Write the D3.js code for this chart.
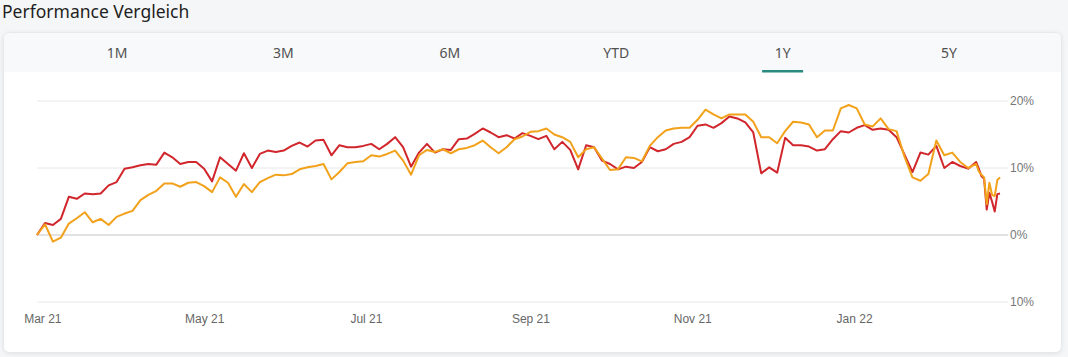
<!DOCTYPE html>
<html>
<head>
<meta charset="utf-8">
<script src="https://cdn.jsdelivr.net/npm/d3@7"></script>
<style>
  html, body { margin: 0; padding: 0; background: #f5f6f7; }
  svg { display: block; }
</style>
</head>
<body>
<svg id="chart" width="1068" height="357"></svg>
<script>
// ---- data ----
const title = "Performance Vergleich";
const tabs = ["1M", "3M", "6M", "YTD", "1Y", "5Y"];
const activeTab = "1Y";
const dates = [
  "2021-02-27","2021-03-02","2021-03-05","2021-03-08","2021-03-11","2021-03-14","2021-03-17","2021-03-20","2021-03-23","2021-03-26",
  "2021-03-29","2021-04-01","2021-04-04","2021-04-07","2021-04-10","2021-04-13","2021-04-16","2021-04-19","2021-04-22","2021-04-25",
  "2021-04-28","2021-05-01","2021-05-04","2021-05-07","2021-05-10","2021-05-13","2021-05-16","2021-05-19","2021-05-22","2021-05-25",
  "2021-05-28","2021-05-31","2021-06-03","2021-06-06","2021-06-09","2021-06-12","2021-06-15","2021-06-18","2021-06-21","2021-06-24",
  "2021-06-27","2021-06-30","2021-07-03","2021-07-06","2021-07-09","2021-07-12","2021-07-15","2021-07-18","2021-07-21","2021-07-24",
  "2021-07-27","2021-07-30","2021-08-02","2021-08-05","2021-08-08","2021-08-11","2021-08-14","2021-08-17","2021-08-20","2021-08-23",
  "2021-08-26","2021-08-29","2021-09-01","2021-09-04","2021-09-07","2021-09-10","2021-09-13","2021-09-16","2021-09-19","2021-09-22",
  "2021-09-25","2021-09-28","2021-10-01","2021-10-04","2021-10-07","2021-10-10","2021-10-13","2021-10-16","2021-10-19","2021-10-22",
  "2021-10-25","2021-10-28","2021-10-31","2021-11-03","2021-11-06","2021-11-09","2021-11-12","2021-11-15","2021-11-18","2021-11-21",
  "2021-11-24","2021-11-27","2021-11-30","2021-12-03","2021-12-06","2021-12-09","2021-12-12","2021-12-15","2021-12-18","2021-12-21",
  "2021-12-24","2021-12-27","2021-12-30","2022-01-02","2022-01-05","2022-01-08","2022-01-11","2022-01-14","2022-01-17","2022-01-20",
  "2022-01-23","2022-01-26","2022-01-29","2022-02-01","2022-02-04","2022-02-07","2022-02-10","2022-02-13","2022-02-16","2022-02-17",
  "2022-02-18","2022-02-19","2022-02-20","2022-02-21","2022-02-22","2022-02-23","2022-02-24","2022-02-25"
];
const seriesRed = [
  0.0,1.8,1.5,2.4,5.7,5.4,6.2,6.1,6.2,7.4,
  7.9,9.9,10.1,10.4,10.6,10.5,12.3,11.6,10.6,10.9,
  10.9,9.9,8.0,11.6,10.6,9.6,12.2,10.0,12.1,12.6,
  12.4,12.6,13.3,13.8,13.2,14.1,14.2,11.9,13.4,13.1,
  13.1,13.3,13.6,12.8,13.6,14.6,13.1,10.2,12.3,13.6,
  12.3,12.8,12.7,14.3,14.4,15.1,15.9,15.3,14.6,14.9,
  14.4,15.2,14.8,14.3,14.8,12.8,13.9,12.7,9.8,13.4,
  13.1,11.1,10.6,9.8,10.2,10.0,10.9,13.1,12.5,12.8,
  13.6,13.9,14.6,16.3,16.5,16.0,16.7,17.7,17.4,16.8,
  15.3,9.2,10.1,9.3,14.5,13.4,13.4,13.2,12.6,12.8,
  14.3,15.5,15.3,16.0,16.4,15.7,15.9,15.7,14.6,12.0,
  9.4,12.3,12.0,13.3,10.0,10.9,10.3,9.9,10.9,9.9,
  8.8,8.4,3.8,6.3,5.0,3.5,6.1,6.2
];
const seriesOrange = [
  0.0,1.6,-1.0,-0.4,1.7,2.5,3.4,1.9,2.4,1.5,
  2.7,3.2,3.6,5.2,6.0,6.6,7.7,7.7,7.2,7.8,
  7.9,7.3,6.4,8.6,7.8,5.7,7.6,6.4,7.9,8.5,
  9.0,8.9,9.1,9.8,10.1,10.3,10.6,8.3,9.4,10.7,
  10.9,11.0,11.9,11.7,12.1,12.6,11.1,9.0,11.9,12.7,
  12.4,12.8,12.2,12.8,13.0,13.4,14.1,13.1,12.2,13.1,
  14.3,14.7,15.4,15.5,15.9,15.0,14.6,13.9,11.6,12.8,
  13.1,11.4,9.7,9.8,11.6,11.5,11.0,13.3,14.6,15.6,
  15.9,16.0,16.0,17.2,18.7,18.0,17.4,18.0,18.0,18.0,
  16.9,14.6,14.6,13.7,15.5,16.9,16.8,16.5,14.6,15.6,
  15.6,18.9,19.4,18.9,16.5,16.2,17.4,15.8,15.5,11.7,
  8.6,8.1,9.1,14.1,11.9,12.3,10.9,10.0,10.6,9.5,
  9.0,8.6,4.6,7.8,6.0,5.8,8.2,8.6
];
const yTicks = [20, 10, 0, -10];
const yTickLabels = ["20%", "10%", "0%", "10%"];
const xTicks = ["2021-03-01","2021-05-01","2021-07-01","2021-09-01","2021-11-01","2022-01-01"];
const xTickLabels = ["Mar 21","May 21","Jul 21","Sep 21","Nov 21","Jan 22"];

// ---- drawing ----
const svg = d3.select("#chart");
const parse = d3.timeParse("%Y-%m-%d");
const D = dates.map(parse);

// title
svg.append("text").attr("x", 2).attr("y", 18)
  .attr("font-family", "'Noto Sans', sans-serif").attr("font-size", 17.5)
  .attr("fill", "#1f1f1f").text(title);

// card
const card = svg.append("g");
card.append("rect").attr("x", 3.5).attr("y", 32.5).attr("width", 1058).attr("height", 320)
  .attr("rx", 6).attr("fill", "#ffffff").attr("stroke", "#e6e8ea")
  .style("filter", "drop-shadow(0 1px 2px rgba(0,0,0,0.08))");
// tab bar
card.append("path")
  .attr("d", "M4,72 L4,38.5 Q4,33 9.5,33 L1055.5,33 Q1061,33 1061,38.5 L1061,72 Z")
  .attr("fill", "#f8f9fa");

const tabX = d3.scalePoint().domain(tabs).range([117, 949]);
card.selectAll("text.tab").data(tabs).join("text")
  .attr("class", "tab")
  .attr("x", d => tabX(d)).attr("y", 58)
  .attr("text-anchor", "middle")
  .attr("font-family", "'Noto Sans', sans-serif").attr("font-size", 14)
  .attr("fill", "#505050").text(d => d);
card.append("rect").attr("x", tabX(activeTab) - 20.5).attr("y", 70).attr("width", 41).attr("height", 2.5)
  .attr("fill", "#2a8a80");

// scales
const x = d3.scaleTime().domain([parse("2021-02-27"), parse("2022-02-25")]).range([37, 1000]);
const y = d3.scaleLinear().domain([-10, 20]).range([302, 101]);

// gridlines
const grid = svg.append("g");
grid.selectAll("line").data(yTicks).join("line")
  .attr("x1", 37).attr("x2", 1008)
  .attr("y1", d => y(d)).attr("y2", d => y(d))
  .attr("stroke", d => d === 0 ? "#c4c4c4" : "#e8e8e8")
  .attr("stroke-width", 1);

// y axis labels via axis
const yAxis = d3.axisRight(y).tickValues(yTicks)
  .tickFormat((d, i) => yTickLabels[i]).tickSize(0).tickPadding(0);
const yg = svg.append("g").attr("transform", "translate(1010,0)").call(yAxis);
yg.select(".domain").remove();
yg.selectAll("text").attr("font-family", "'Liberation Sans', Arial, sans-serif")
  .attr("font-size", 12).attr("fill", "#777");

// x axis
const xAxis = d3.axisBottom(x).tickValues(xTicks.map(parse))
  .tickFormat((d, i) => xTickLabels[i]).tickSize(0).tickPadding(0);
const xg = svg.append("g").attr("transform", "translate(0,314)").call(xAxis);
xg.select(".domain").remove();
xg.selectAll("text").attr("font-family", "'Liberation Sans', Arial, sans-serif")
  .attr("font-size", 12).attr("fill", "#666");

// lines
const line = d3.line().x((d, i) => x(D[i])).y(d => y(d));
svg.append("path").datum(seriesRed).attr("d", line)
  .attr("fill", "none").attr("stroke", "#d0262c").attr("stroke-width", 2)
  .attr("stroke-linejoin", "round");
svg.append("path").datum(seriesOrange).attr("d", line)
  .attr("fill", "none").attr("stroke", "#f2a11b").attr("stroke-width", 2)
  .attr("stroke-linejoin", "round");
</script>
</body>
</html>
